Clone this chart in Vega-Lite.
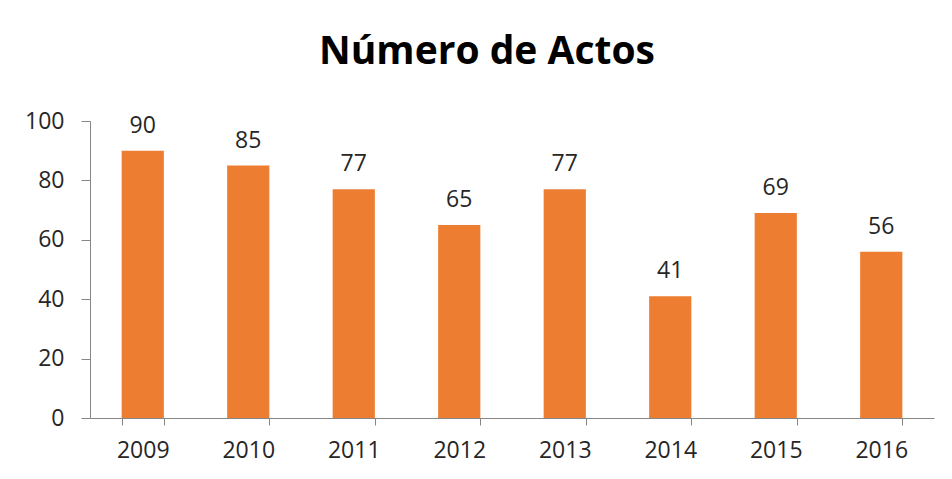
{
  "$schema": "https://vega.github.io/schema/vega-lite/v6.json",
  "width": 844,
  "height": 297,
  "autosize": {"type": "none"},
  "padding": {"left": 90, "top": 121, "right": 18, "bottom": 61},
  "background": "white",
  "title": {
    "text": "Número de Actos",
    "font": "Open Sans",
    "fontSize": 39,
    "fontWeight": "bold",
    "color": "#000000",
    "anchor": "middle",
    "dx": -25,
    "offset": 38
  },
  "data": {
    "values": [
      {"year": "2009", "value": 90},
      {"year": "2010", "value": 85},
      {"year": "2011", "value": 77},
      {"year": "2012", "value": 65},
      {"year": "2013", "value": 77},
      {"year": "2014", "value": 41},
      {"year": "2015", "value": 69},
      {"year": "2016", "value": 56}
    ]
  },
  "encoding": {
    "x": {
      "field": "year",
      "type": "nominal",
      "scale": {"paddingInner": 0.6, "paddingOuter": 0.3},
      "axis": {
        "title": null,
        "labelAngle": 0,
        "labelFont": "Open Sans",
        "labelFontSize": 23,
        "labelColor": "#262626",
        "labelPadding": 14,
        "tickBand": "extent",
        "tickSize": 7,
        "tickColor": "#868686",
        "domainColor": "#868686",
        "grid": false
      }
    },
    "y": {
      "field": "value",
      "type": "quantitative",
      "scale": {"domain": [0, 100]},
      "axis": {
        "title": null,
        "values": [0, 20, 40, 60, 80, 100],
        "labelFont": "Open Sans",
        "labelFontSize": 23,
        "labelColor": "#262626",
        "labelPadding": 17,
        "tickSize": 9,
        "tickColor": "#868686",
        "domainColor": "#868686",
        "grid": false
      }
    }
  },
  "layer": [
    {"mark": {"type": "bar", "color": "#ED7D31"}},
    {
      "mark": {"type": "text", "baseline": "alphabetic", "dy": -18, "font": "Open Sans", "fontSize": 23, "color": "#262626"},
      "encoding": {"text": {"field": "value", "type": "quantitative"}}
    }
  ],
  "config": {"view": {"stroke": null}}
}
